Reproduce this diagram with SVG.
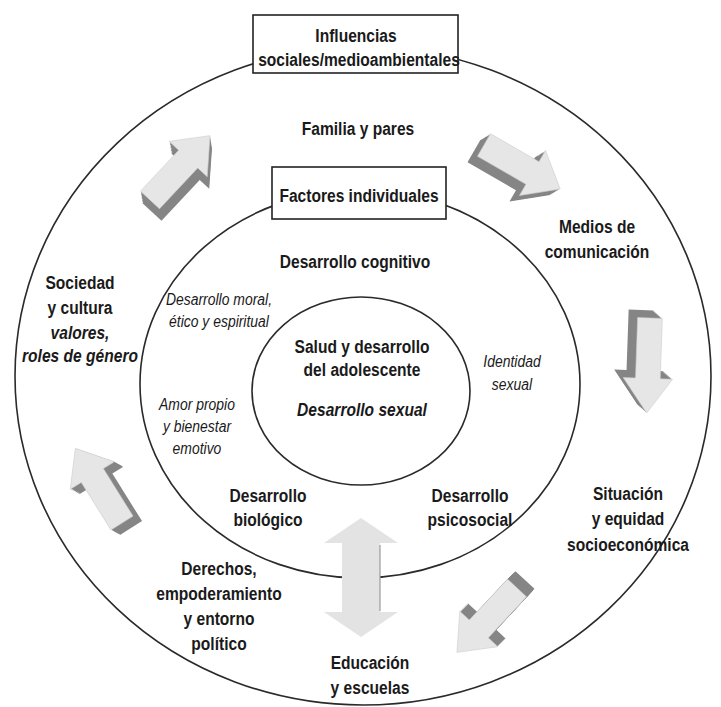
<svg xmlns="http://www.w3.org/2000/svg" xmlns:xlink="http://www.w3.org/1999/xlink" width="721" height="707" viewBox="0 0 721 707">
<style>
text{font-family:"Liberation Sans",Arial,sans-serif;fill:#1a1a1a;text-anchor:middle}
.b{font-weight:bold;font-size:19px}
.i{font-style:italic;font-size:17px}
.bi{font-weight:bold;font-style:italic;font-size:19px}
.ring{fill:none;stroke:#2a2a2a;stroke-width:1.6}
.box{fill:#fff;stroke:#222;stroke-width:1.6}
.side{fill:#858585}
.face{fill:#e6e6e6;stroke:#cfcfcf;stroke-width:0.6}
</style>
<defs>
<polygon id="ar" points="0,-13 56,-13 56,-26 88,0 56,26 56,13 0,13"/>
<g id="a1"><use xlink:href="#ar" transform="translate(150,200) rotate(-47)"/></g>
<g id="a2"><use xlink:href="#ar" transform="translate(484,145) rotate(30)"/></g>
<g id="a3"><use xlink:href="#ar" transform="translate(650,318) rotate(92) scale(1.08,0.95)"/></g>
<g id="a4"><use xlink:href="#ar" transform="translate(517,588) rotate(133)"/></g>
<g id="a5"><use xlink:href="#ar" transform="translate(122,523) rotate(-122)"/></g>
</defs>
<rect width="721" height="707" fill="#fff"/>
<g id="rings">
<ellipse class="ring" cx="363" cy="376" rx="348" ry="329"/>
<ellipse class="ring" cx="360" cy="384" rx="220" ry="194"/>
<ellipse class="ring" cx="361" cy="391" rx="109" ry="94"/>
</g>
<g id="connectors">
<g id="arrow1" class="side">
<use xlink:href="#a1" transform="translate(0.25,1.5)"/><use xlink:href="#a1" transform="translate(0.5,3)"/><use xlink:href="#a1" transform="translate(0.75,4.5)"/><use xlink:href="#a1" transform="translate(1,6)"/><use xlink:href="#a1" transform="translate(1.25,7.5)"/><use xlink:href="#a1" transform="translate(1.5,9)"/><use xlink:href="#a1" transform="translate(1.75,10.5)"/><use xlink:href="#a1" transform="translate(2,12)"/>
<use xlink:href="#a1" class="face"/>
</g>
<g id="arrow2" class="side">
<use xlink:href="#a2" transform="translate(-1.25,0.75)"/><use xlink:href="#a2" transform="translate(-2.5,1.5)"/><use xlink:href="#a2" transform="translate(-3.75,2.25)"/><use xlink:href="#a2" transform="translate(-5,3)"/><use xlink:href="#a2" transform="translate(-6.25,3.75)"/><use xlink:href="#a2" transform="translate(-7.5,4.5)"/><use xlink:href="#a2" transform="translate(-8.75,5.25)"/><use xlink:href="#a2" transform="translate(-10,6)"/>
<use xlink:href="#a2" class="face"/>
</g>
<g id="arrow3" class="side">
<use xlink:href="#a3" transform="translate(-1.125,-1)"/><use xlink:href="#a3" transform="translate(-2.25,-2)"/><use xlink:href="#a3" transform="translate(-3.375,-3)"/><use xlink:href="#a3" transform="translate(-4.5,-4)"/><use xlink:href="#a3" transform="translate(-5.625,-5)"/><use xlink:href="#a3" transform="translate(-6.75,-6)"/><use xlink:href="#a3" transform="translate(-7.875,-7)"/><use xlink:href="#a3" transform="translate(-9,-8)"/>
<use xlink:href="#a3" class="face"/>
</g>
<g id="arrow4" class="side">
<use xlink:href="#a4" transform="translate(1,-1)"/><use xlink:href="#a4" transform="translate(2,-2)"/><use xlink:href="#a4" transform="translate(3,-3)"/><use xlink:href="#a4" transform="translate(4,-4)"/><use xlink:href="#a4" transform="translate(5,-5)"/><use xlink:href="#a4" transform="translate(6,-6)"/><use xlink:href="#a4" transform="translate(7,-7)"/><use xlink:href="#a4" transform="translate(8,-8)"/>
<use xlink:href="#a4" class="face"/>
</g>
<g id="arrow5" class="side">
<use xlink:href="#a5" transform="translate(1.125,0.625)"/><use xlink:href="#a5" transform="translate(2.25,1.25)"/><use xlink:href="#a5" transform="translate(3.375,1.875)"/><use xlink:href="#a5" transform="translate(4.5,2.5)"/><use xlink:href="#a5" transform="translate(5.625,3.125)"/><use xlink:href="#a5" transform="translate(6.75,3.75)"/><use xlink:href="#a5" transform="translate(7.875,4.375)"/><use xlink:href="#a5" transform="translate(9,5)"/>
<use xlink:href="#a5" class="face"/>
</g>
<g id="arrow-double">
<polygon points="361,518 398,543 380,543 380,612 398,612 361,637 324,612 342,612 342,543 324,543" fill="#e3e3e3"/>
<line x1="380" y1="545" x2="380" y2="611" stroke="#9a9a9a" stroke-width="1.2"/>
</g>
</g>
<g id="influencias">
<rect class="box" x="253" y="15" width="205" height="58"/>
<text class="b" x="356" y="42" transform="matrix(0.82 0 0 1 64.08 0)">Influencias</text>
<text class="b" x="359" y="66" transform="matrix(0.82 0 0 1 64.62 0)">sociales/medioambientales</text>
</g>
<g id="factores">
<rect class="box" x="272" y="167" width="174" height="52"/>
<text class="b" x="359" y="202" transform="matrix(0.82 0 0 1 64.62 0)">Factores individuales</text>
</g>
<g id="familia"><text class="b" x="358" y="135" transform="matrix(0.82 0 0 1 64.44 0)">Familia y pares</text></g>
<g id="medios" transform="matrix(0.82 0 0 1 107.46 0)"><text class="b" x="597" y="233">Medios de</text><text class="b" x="597" y="258">comunicación</text></g>
<g id="cognitivo"><text class="b" x="355" y="268" transform="matrix(0.82 0 0 1 63.9 0)">Desarrollo cognitivo</text></g>
<g id="sociedad" transform="matrix(0.82 0 0 1 14.4 0)">
<text class="b" x="80" y="289">Sociedad</text>
<text class="b" x="80" y="314">y cultura</text>
<text class="bi" x="80" y="339">valores,</text>
<text class="bi" x="80" y="362">roles de género</text>
</g>
<g id="moral" transform="matrix(0.82 0 0 1 39.42 0)"><text class="i" x="219" y="305">Desarrollo moral,</text><text class="i" x="219" y="327">ético y espiritual</text></g>
<g id="salud" transform="matrix(0.82 0 0 1 65.16 0)">
<text class="b" x="362" y="353">Salud y desarrollo</text>
<text class="b" x="362" y="376">del adolescente</text>
<text class="bi" x="362" y="416">Desarrollo sexual</text>
</g>
<g id="identidad" transform="matrix(0.82 0 0 1 92.16 0)"><text class="i" x="512" y="367">Identidad</text><text class="i" x="512" y="390">sexual</text></g>
<g id="amor" transform="matrix(0.82 0 0 1 35.46 0)"><text class="i" x="197" y="410">Amor propio</text><text class="i" x="197" y="432">y bienestar</text><text class="i" x="197" y="454">emotivo</text></g>
<g id="biologico" transform="matrix(0.82 0 0 1 48.24 0)"><text class="b" x="268" y="502">Desarrollo</text><text class="b" x="268" y="526">biológico</text></g>
<g id="psicosocial" transform="matrix(0.82 0 0 1 84.6 0)"><text class="b" x="470" y="502">Desarrollo</text><text class="b" x="470" y="526">psicosocial</text></g>
<g id="situacion" transform="matrix(0.82 0 0 1 113.04 0)"><text class="b" x="628" y="500">Situación</text><text class="b" x="628" y="525">y equidad</text><text class="b" x="628" y="551">socioeconómica</text></g>
<g id="derechos" transform="matrix(0.82 0 0 1 39.42 0)"><text class="b" x="219" y="575">Derechos,</text><text class="b" x="219" y="600">empoderamiento</text><text class="b" x="219" y="625">y entorno</text><text class="b" x="219" y="650">político</text></g>
<g id="educacion" transform="matrix(0.82 0 0 1 66.6 0)"><text class="b" x="370" y="669">Educación</text><text class="b" x="370" y="694">y escuelas</text></g>
</svg>
